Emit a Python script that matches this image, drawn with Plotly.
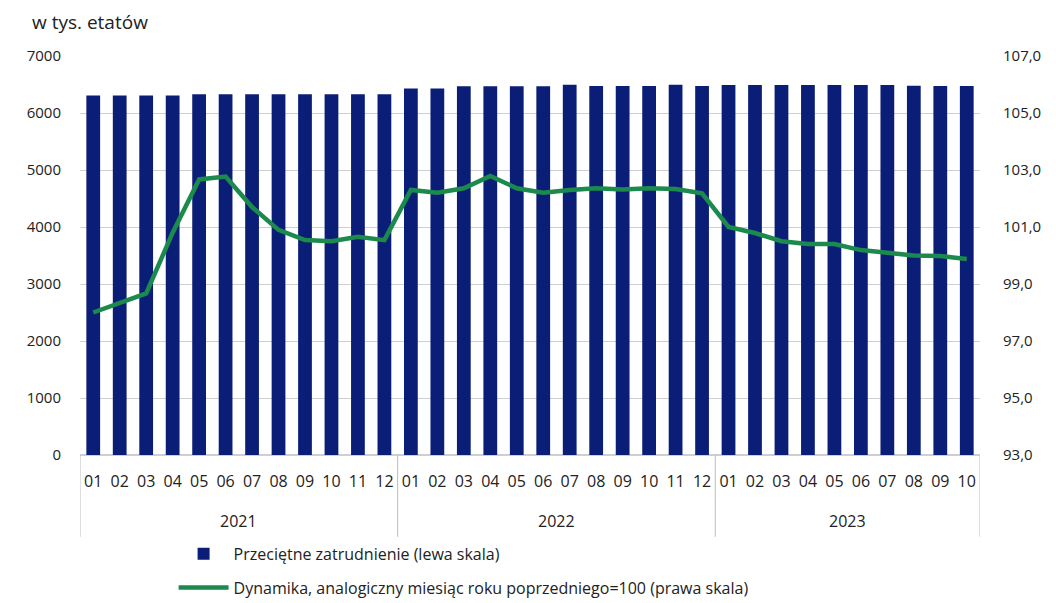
import plotly.graph_objects as go

years = ["2021"] * 12 + ["2022"] * 12 + ["2023"] * 10
months = ["01", "02", "03", "04", "05", "06", "07", "08", "09", "10", "11", "12"] * 2 + \
         ["01", "02", "03", "04", "05", "06", "07", "08", "09", "10"]

employment = [6305, 6305, 6305, 6305, 6330, 6330, 6330, 6330, 6330, 6330, 6330, 6330,
              6430, 6430, 6468, 6468, 6468, 6468, 6497, 6475, 6475, 6475, 6497, 6475,
              6490, 6490, 6490, 6490, 6490, 6490, 6490, 6480, 6475, 6475]

dynamics = [98.0, 98.33, 98.67, 100.8, 102.67, 102.77, 101.7, 100.9, 100.54, 100.5, 100.66, 100.54,
            102.3, 102.2, 102.36, 102.79, 102.36, 102.2, 102.3, 102.36, 102.32, 102.36, 102.33, 102.18,
            101.0, 100.79, 100.5, 100.4, 100.4, 100.19, 100.1, 100.0, 99.98, 99.88]

bar_name = "Przeciętne zatrudnienie (lewa skala)"
line_name = "Dynamika, analogiczny miesiąc roku poprzedniego=100 (prawa skala)"

font_family = "Open Sans, DejaVu Sans, sans-serif"
text_color = "#222222"
divider_color = "#bdbdbd"

cats = [f"{y}-{m}" for y, m in zip(years, months)]

fig = go.Figure()
fig.add_trace(go.Bar(x=cats, y=employment, name=bar_name, legendgroup="a",
                     marker=dict(color="#0b1e77", line=dict(width=0)), yaxis="y"))
fig.add_trace(go.Scatter(x=cats, y=dynamics, name=line_name, mode="lines",
                         legendgroup="b",
                         line=dict(color="#1b8a4c", width=4.5), yaxis="y2"))

# year groups: labels and dividers derived from the data
unique_years = []
for y in years:
    if y not in unique_years:
        unique_years.append(y)
annotations = []
shapes = []
boundaries = [-0.5]
for y in unique_years:
    idx = [i for i, v in enumerate(years) if v == y]
    first, last = idx[0], idx[-1]
    annotations.append(dict(text=y, x=(first + last) / 2, xref="x", y=-0.165, yref="paper",
                            xanchor="center", yanchor="middle", showarrow=False,
                            font=dict(size=16, color=text_color)))
    boundaries.append(last + 0.5)
for b in boundaries:
    shapes.append(dict(type="line", xref="x", yref="paper", x0=b, x1=b, y0=0, y1=-0.205,
                       line=dict(color=divider_color, width=1)))

annotations.append(dict(text="w tys. etatów", xref="paper", yref="paper",
                        x=-0.056, y=1.047, xanchor="left", yanchor="bottom",
                        showarrow=False, font=dict(size=19, color=text_color)))

fig.update_layout(
    width=1056, height=603,
    margin=dict(l=72, r=84, t=48, b=156, autoexpand=False),
    paper_bgcolor="white", plot_bgcolor="white",
    separators=", ",
    font=dict(family=font_family, size=15, color=text_color),
    bargap=0.48,
    showlegend=True,
    legend=dict(orientation="v", x=0.104, xanchor="left", y=-0.205, yanchor="top",
                font=dict(size=16, color=text_color), tracegroupgap=10,
                itemwidth=50, bgcolor="rgba(0,0,0,0)"),
    xaxis=dict(type="category", showgrid=False, showline=False, automargin=False,
               tickmode="array", tickvals=cats, ticktext=months,
               tickfont=dict(size=16), ticks="", ticklabelstandoff=15,
               range=[-0.5, len(cats) - 0.5]),
    yaxis=dict(range=[0, 7000], dtick=1000, showgrid=True, gridcolor="#cfcfcf",
               gridwidth=1, zeroline=True, zerolinecolor="#cfcfcf", showline=False,
               tickfont=dict(size=15), ticks="", automargin=False, ticklabelstandoff=18),
    yaxis2=dict(range=[93, 107], tick0=93, dtick=2, overlaying="y", side="right",
                showgrid=False, zeroline=False, tickformat=".1f", automargin=False,
                tickfont=dict(size=15), ticks="", ticklabelstandoff=22),
    annotations=annotations,
    shapes=shapes,
)

fig.write_html("out.html")
